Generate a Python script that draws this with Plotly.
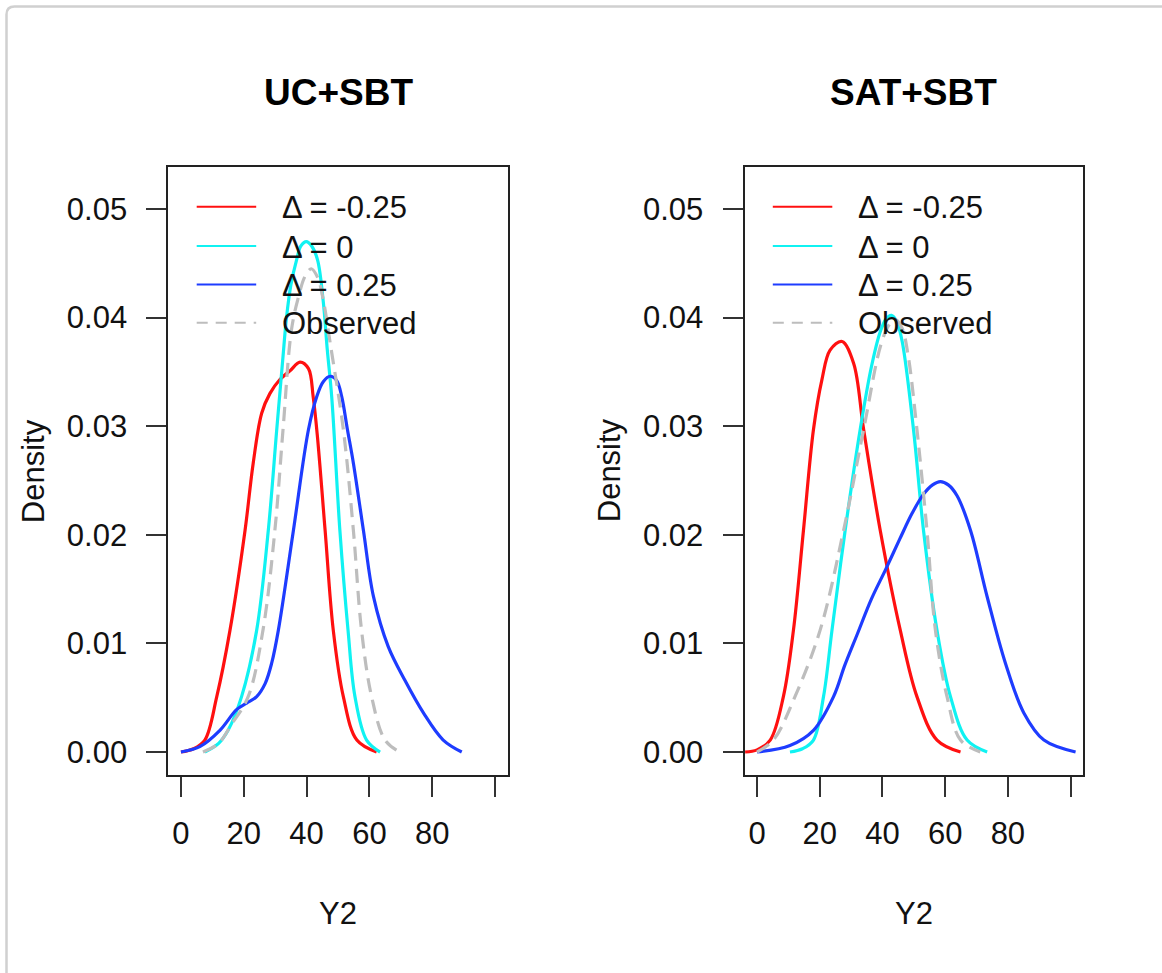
import plotly.graph_objects as go

W, H = 1162, 973

panel_titles = ["UC+SBT", "SAT+SBT"]
series_names = ["\u0394 = -0.25", "\u0394 = 0", "\u0394 = 0.25", "Observed"]
series_colors = ["#ff1010", "#10f2f2", "#1e3cff", "#bdbdbd"]

x_ticks = [0, 20, 40, 60, 80, 100]
x_tick_labels = ["0", "20", "40", "60", "80", ""]
y_ticks = [0, 0.01, 0.02, 0.03, 0.04, 0.05]
y_tick_labels = ["0.00", "0.01", "0.02", "0.03", "0.04", "0.05"]
x_title = "Y2"
y_title = "Density"

# ---- Left panel: UC+SBT ----
uc_neg_x = [0, 4, 7.6, 11.4, 15.6, 20.4, 23, 25.7, 28.3, 31.5, 34.7, 37.9, 40.6, 42.1, 43.4, 45.9, 48.5, 51.7, 56, 62.3]
uc_neg_y = [0, 0.0003, 0.0011, 0.0051, 0.0112, 0.0204, 0.0266, 0.0312, 0.0330, 0.0343, 0.0351, 0.0359, 0.0353, 0.0327, 0.0292, 0.0204, 0.0112, 0.0051, 0.0011, 0]

uc_zero_x = [7.6, 12, 15, 19.3, 24.1, 27.8, 30.5, 32.4, 33.6, 35, 36.8, 38.2, 39.9, 41.6, 43.5, 45.3, 46.6, 48, 50.6, 53.2, 55.4, 59.1, 63.4]
uc_zero_y = [0, 0.0008, 0.002, 0.0051, 0.0112, 0.0204, 0.0297, 0.0361, 0.0400, 0.0430, 0.0453, 0.0466, 0.0470, 0.0466, 0.0453, 0.0415, 0.0370, 0.0327, 0.0204, 0.0112, 0.0051, 0.0011, 0]

uc_pos_x = [0, 6, 12.4, 17.7, 20.9, 24.1, 26.8, 28.9, 31, 35.8, 40.6, 43.2, 45.3, 47.5, 49.6, 51.2, 53, 54.9, 58.1, 61.3, 66, 71.3, 77.2, 83.5, 89.4]
uc_pos_y = [0, 0.0005, 0.002, 0.0039, 0.0045, 0.0051, 0.0063, 0.0082, 0.0112, 0.0204, 0.0297, 0.0327, 0.0341, 0.0346, 0.0342, 0.0327, 0.0297, 0.0266, 0.0204, 0.0143, 0.0097, 0.0066, 0.0036, 0.0011, 0]

uc_obs_x = [7, 12, 16, 21.4, 26.1, 29.9, 32.5, 35.2, 37.5, 39.5, 41.5, 43.5, 45.2, 47.6, 51.7, 54.9, 57.5, 60.7, 65, 69.7]
uc_obs_y = [0, 0.0008, 0.0025, 0.0051, 0.0112, 0.0204, 0.0297, 0.0389, 0.0420, 0.0438, 0.0445, 0.0437, 0.0418, 0.0375, 0.0297, 0.0204, 0.0112, 0.0051, 0.0011, 0]

# ---- Right panel: SAT+SBT ----
sat_neg_x = [-3.8, 0, 4.2, 8.4, 11.6, 14.8, 18, 20.7, 23.3, 27.1, 30.8, 34, 39.3, 45.7, 51, 57.4, 64.9]
sat_neg_y = [0, 0.0002, 0.0011, 0.0051, 0.0112, 0.0204, 0.0297, 0.0343, 0.0370, 0.0378, 0.0358, 0.0297, 0.0204, 0.0112, 0.0051, 0.0011, 0]

sat_zero_x = [10.5, 14.5, 18, 21.2, 23.9, 28.1, 32.9, 36.5, 39.3, 41.2, 42.9, 44.6, 46.3, 49.9, 53.1, 57.4, 61.7, 67, 73.4]
sat_zero_y = [0, 0.0003, 0.0011, 0.0051, 0.0112, 0.0204, 0.0297, 0.0355, 0.0387, 0.0399, 0.0402, 0.0396, 0.0378, 0.0297, 0.0204, 0.0112, 0.0051, 0.0011, 0]

sat_pos_x = [0, 10.5, 18, 24.4, 28, 31.9, 36.5, 41, 45.5, 49.5, 53, 56, 58.5, 61, 63.8, 68.1, 73.4, 79.2, 85.1, 91.5, 101.6]
sat_pos_y = [0, 0.0006, 0.002, 0.0051, 0.0080, 0.0108, 0.0141, 0.0168, 0.0196, 0.0220, 0.0237, 0.0246, 0.0249, 0.0246, 0.0236, 0.0204, 0.0143, 0.0082, 0.0036, 0.0011, 0]

sat_obs_x = [0, 5.2, 12.1, 20.1, 27.6, 34, 39.5, 42.3, 44.3, 46.3, 48.2, 51, 54.2, 56.9, 60.6, 64.9, 71.2]
sat_obs_y = [0, 0.0011, 0.0051, 0.0112, 0.0204, 0.0297, 0.0375, 0.0394, 0.0398, 0.0390, 0.0365, 0.0297, 0.0204, 0.0112, 0.0051, 0.0011, 0]

panels = [
    [(uc_neg_x, uc_neg_y), (uc_zero_x, uc_zero_y), (uc_pos_x, uc_pos_y), (uc_obs_x, uc_obs_y)],
    [(sat_neg_x, sat_neg_y), (sat_zero_x, sat_zero_y), (sat_pos_x, sat_pos_y), (sat_obs_x, sat_obs_y)],
]

# ---- layout geometry (pixels) ----
FONT = "Liberation Sans, Arial, Helvetica, sans-serif"
box_left_px = [168.4, 744.5]
box_right_px = [507.6, 1083.1]
box_top_px, box_bot_px = 167, 774.5
x_range = [-4, 104]
y_range = [-0.00207, 0.05387]


def px(x):
    return x / W


def py(y):
    return 1 - y / H


fig = go.Figure()

for p, series in enumerate(panels):
    xa = "x" if p == 0 else "x2"
    ya = "y" if p == 0 else "y2"
    for s, (xs, ys) in enumerate(series):
        dash = "14px,8px" if s == 3 else "solid"
        fig.add_trace(go.Scatter(
            x=xs, y=ys, mode="lines", xaxis=xa, yaxis=ya,
            line=dict(color=series_colors[s], width=3.2, dash=dash,
                      shape="spline", smoothing=1.0),
            showlegend=False, hoverinfo="skip", cliponaxis=True,
        ))

axis_common = dict(
    showline=True, mirror=True, linecolor="#222", linewidth=2,
    ticks="outside", ticklen=20, tickwidth=2, tickcolor="#333",
    showgrid=False, zeroline=False,
    tickfont=dict(family=FONT, size=31, color="#111"),
)

layout = dict(
    width=W, height=H,
    margin=dict(l=0, r=0, t=0, b=0),
    paper_bgcolor="white", plot_bgcolor="white",
    showlegend=False,
)
for p in range(2):
    sfx = "" if p == 0 else "2"
    layout["xaxis" + sfx] = dict(
        axis_common, domain=[px(box_left_px[p]), px(box_right_px[p])],
        range=x_range, tickmode="array", tickvals=x_ticks, ticktext=x_tick_labels,
        anchor="y" + sfx, ticklabelstandoff=10,
    )
    layout["yaxis" + sfx] = dict(
        axis_common, domain=[py(box_bot_px), py(box_top_px)],
        range=y_range, tickmode="array", tickvals=y_ticks, ticktext=y_tick_labels,
        anchor="x" + sfx, ticklabelstandoff=13,
    )
fig.update_layout(**layout)

annotations = []
shapes = []
legend_rows_px = [206.7, 246, 284.5, 322.7]
for p in range(2):
    cx = (box_left_px[p] + box_right_px[p]) / 2
    annotations.append(dict(text="<b>%s</b>" % panel_titles[p], x=px(cx), y=py(93),
                            xref="paper", yref="paper", showarrow=False,
                            xanchor="center", yanchor="middle",
                            font=dict(family=FONT, size=37, color="#000")))
    annotations.append(dict(text=x_title, x=px(cx), y=py(913),
                            xref="paper", yref="paper", showarrow=False,
                            xanchor="center", yanchor="middle",
                            font=dict(family=FONT, size=31, color="#111")))
    annotations.append(dict(text=y_title, x=px(box_left_px[p] - 135), y=py((box_top_px + box_bot_px) / 2),
                            xref="paper", yref="paper", showarrow=False, textangle=-90,
                            xanchor="center", yanchor="middle",
                            font=dict(family=FONT, size=31, color="#111")))
    # legend (no border), inside plot box
    lx0 = box_left_px[p] + 28.3
    lx1 = lx0 + 59.5
    tx = lx0 + 83.5
    for s, ry in enumerate(legend_rows_px):
        shapes.append(dict(type="line", xref="paper", yref="paper",
                           x0=px(lx0), x1=px(lx1), y0=py(ry), y1=py(ry),
                           line=dict(color=series_colors[s], width=2,
                                     dash="11px,8px" if s == 3 else "solid")))
        annotations.append(dict(text=series_names[s], x=px(tx), y=py(ry + 1),
                                xref="paper", yref="paper", showarrow=False,
                                xanchor="left", yanchor="middle",
                                font=dict(family=FONT, size=31, color="#111")))

# outer light frame (top and left edges visible)
x0f, y0f, r = 6.5, 6.5, 8
path = "M %f,%f L %f,%f Q %f,%f %f,%f L %f,%f" % (
    px(W + 20), py(y0f), px(x0f + r), py(y0f), px(x0f), py(y0f), px(x0f), py(y0f + r), px(x0f), py(H + 20))
shapes.append(dict(type="path", xref="paper", yref="paper", path=path,
                   line=dict(color="#d0d0d0", width=2.5)))

fig.update_layout(annotations=annotations, shapes=shapes)
fig.write_html("out.html",
               config={"displayModeBar": False},
               post_script="document.body.style.margin='0px';document.body.style.overflow='hidden';")
